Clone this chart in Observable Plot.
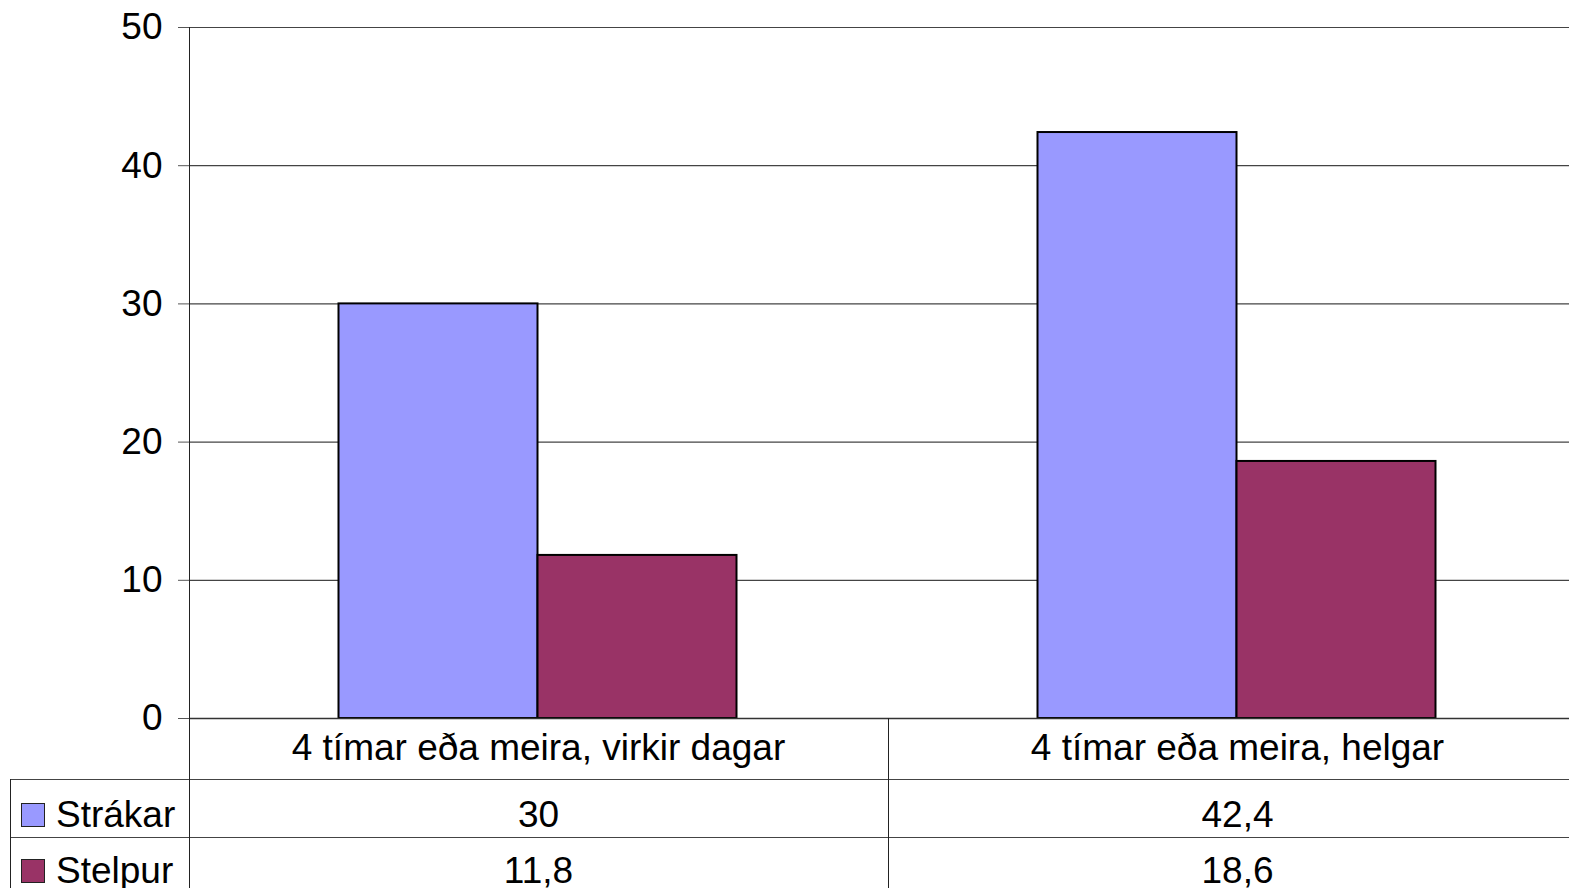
<!DOCTYPE html>
<html><head><meta charset="utf-8">
<script src="https://cdn.jsdelivr.net/npm/d3@7"></script>
<script src="https://cdn.jsdelivr.net/npm/@observablehq/plot@0.6"></script>
<style>
html,body{margin:0;padding:0;background:#fff;overflow:hidden;width:1569px;height:888px;}
#wrap{position:relative;width:1600px;height:888px;font-family:"Liberation Sans",Arial,sans-serif;color:#000;}
#wrap svg{position:absolute;left:0;top:0;}
.t{position:absolute;font-size:37px;line-height:37px;white-space:nowrap;}
.c{text-align:center;}
.hl{position:absolute;height:0;border-top:1.5px solid #444;}
.vl{position:absolute;width:0;border-left:1.5px solid #222;}
.sw{position:absolute;width:22px;height:22px;border:1.5px solid #222;}
</style></head><body><div id="wrap"></div><script>
const categories = ["4 tímar eða meira, virkir dagar", "4 tímar eða meira, helgar"];
const series = ["Strákar", "Stelpur"];
const strakar = [30, 42.4];
const stelpur = [11.8, 18.6];
const colors = ["#9999FF", "#993366"];
const yTicks = [0, 10, 20, 30, 40, 50];

const values = [strakar, stelpur];
const data = categories.flatMap((c, i) => series.map((s, j) => ({cat: c, ser: s, v: values[j][i]})));
const fmt = v => String(v).replace(".", ",");

const W = 1587, H = 719, ML = 189;
const plot = Plot.plot({
  width: W, height: H,
  marginLeft: ML, marginRight: 0, marginTop: 27, marginBottom: 1,
  style: {fontFamily: "Liberation Sans, Arial, sans-serif", fontSize: "37px", background: "transparent", overflow: "visible", color: "#000"},
  fx: {domain: categories, paddingInner: 0, paddingOuter: 0, axis: null, label: null},
  x: {domain: series, paddingInner: 0, paddingOuter: 0.75, axis: null, label: null},
  y: {domain: [0, 50], label: null},
  color: {domain: series, range: colors},
  marks: [
    Plot.gridY(yTicks, {stroke: "#444", strokeOpacity: 1, strokeWidth: 1.2}),
    Plot.axisY({ticks: yTicks, tickSize: 11, tickPadding: 16, stroke: "#555", fontSize: 37, fill: "#000", label: null}),
    Plot.barY(data, {fx: "cat", x: "ser", y: "v", fill: "ser", stroke: "#000", strokeWidth: 2, inset: 0, dx: -1.5}),
    Plot.ruleY([0], {stroke: "#333", strokeWidth: 1.6})
  ]
});
const wrap = document.getElementById("wrap");
wrap.appendChild(plot);

const fx = plot.scale("fx");
const x0 = fx.range[0];
const bw = (fx.range[1] - fx.range[0]) / categories.length;
const rowTops = [718, 779, 837];

function add(cls, style, text) {
  const d = document.createElement("div");
  d.className = cls;
  Object.assign(d.style, style);
  if (text != null) d.textContent = text;
  wrap.appendChild(d);
  return d;
}
// header row: category labels
categories.forEach((c, i) => {
  add("t c", {left: (x0 + i * bw) + "px", width: bw + "px", top: (rowTops[0] + 11) + "px"}, c);
});
// data rows
series.forEach((s, j) => {
  const top = rowTops[j + 1];
  const off = j === 0 ? 17 : 15;
  add("sw", {left: "21px", top: (top + off + 7) + "px", background: colors[j]});
  add("t", {left: "56px", top: (top + off) + "px"}, s);
  categories.forEach((c, i) => {
    add("t c", {left: (x0 + i * bw) + "px", width: bw + "px", top: (top + off) + "px"}, fmt(values[j][i]));
  });
});
// table lines
rowTops.slice(1).forEach(t => add("hl", {left: "10px", width: (W - 10) + "px", top: t + "px"}));
add("vl", {left: "10px", top: rowTops[1] + "px", height: (888 - rowTops[1]) + "px"});
add("vl", {left: (x0 + bw - 0.5) + "px", top: rowTops[0] + "px", height: (888 - rowTops[0]) + "px"});
add("vl", {left: (x0 - 0.5) + "px", top: "27px", height: (888 - 27) + "px"});
</script></body></html>
